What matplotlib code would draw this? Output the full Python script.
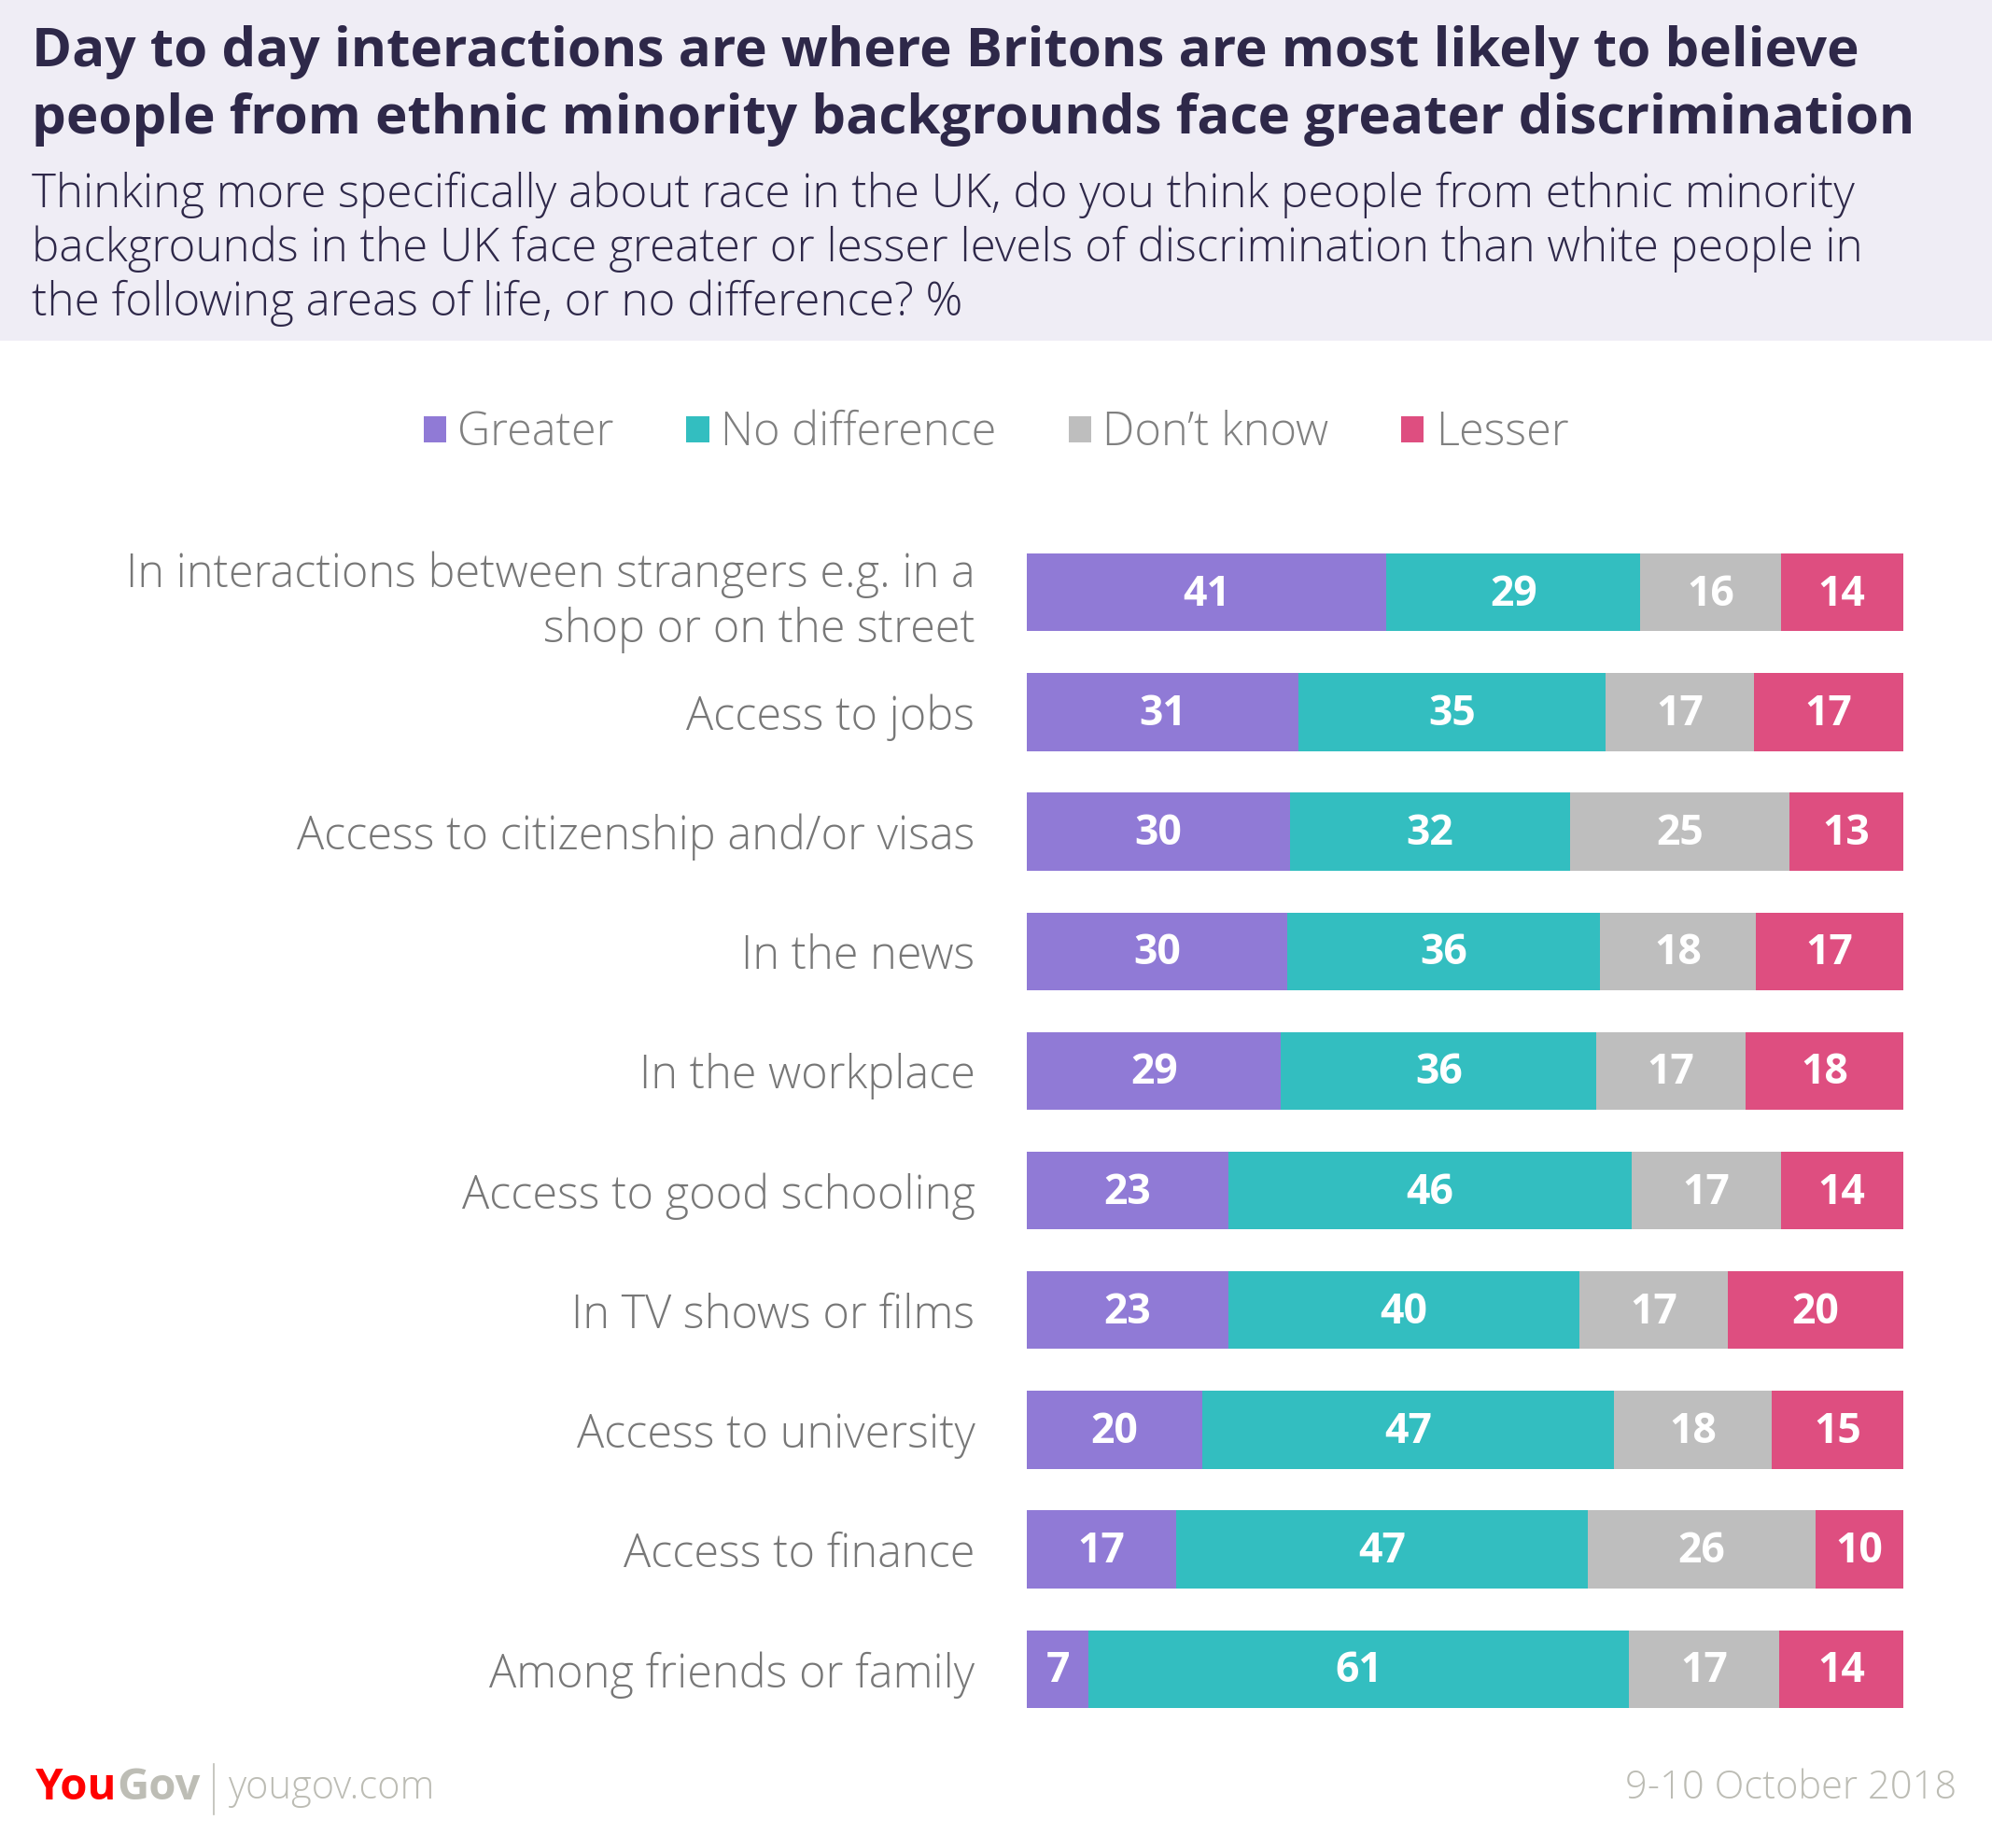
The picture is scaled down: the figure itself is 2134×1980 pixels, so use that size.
import matplotlib
matplotlib.use("Agg")
import matplotlib.pyplot as plt
import numpy as np
from matplotlib.patches import Patch, Rectangle

categories = [
    "In interactions between strangers e.g. in a\nshop or on the street",
    "Access to jobs",
    "Access to citizenship and/or visas",
    "In the news",
    "In the workplace",
    "Access to good schooling",
    "In TV shows or films",
    "Access to university",
    "Access to finance",
    "Among friends or family",
]
greater = [41, 31, 30, 30, 29, 23, 23, 20, 17, 7]
no_difference = [29, 35, 32, 36, 36, 46, 40, 47, 47, 61]
dont_know = [16, 17, 25, 18, 17, 17, 17, 18, 26, 17]
lesser = [14, 17, 13, 17, 18, 14, 20, 15, 10, 14]

series_names = ["Greater", "No difference", "Don\u2019t know", "Lesser"]
colors = ["#907ad6", "#33bec0", "#bebebe", "#de4e80"]

plt.rcParams["font.family"] = ["Open Sans", "DejaVu Sans"]

W, H = 2134, 1980
fig = plt.figure(figsize=(W / 100, H / 100), dpi=100)

# header band
fig.patches.append(Rectangle((0, 1 - 365 / H), 1, 365 / H, transform=fig.transFigure,
                             facecolor="#efedf5", edgecolor="none", zorder=0))
fig.text(34 / W, 1 - 56 / H, "Day to day interactions are where Britons are most likely to believe",
         fontsize=42, fontweight="bold", color="#2e2849", va="center", ha="left")
fig.text(34 / W, 1 - 128 / H, "people from ethnic minority backgrounds face greater discrimination",
         fontsize=42, fontweight="bold", color="#2e2849", va="center", ha="left")
sub = ["Thinking more specifically about race in the UK, do you think people from ethnic minority",
       "backgrounds in the UK face greater or lesser levels of discrimination than white people in",
       "the following areas of life, or no difference? %"]
for i, s in enumerate(sub):
    fig.text(34 / W, 1 - (209 + 58 * i) / H, s, fontsize=35.5, fontweight="light",
             color="#2e2849", va="center", ha="left")

ax = fig.add_axes([1100 / W, 1 - 1830 / H, (2039 - 1100) / W, (1830 - 593) / H])
data = np.array([greater, no_difference, dont_know, lesser], dtype=float)
shares = data / data.sum(axis=0) * 100
y = np.arange(len(categories))
left = np.zeros(len(categories))
for k in range(4):
    ax.barh(y, shares[k], left=left, height=0.65, color=colors[k], edgecolor="none")
    for i in range(len(categories)):
        ax.text(left[i] + shares[k][i] / 2, y[i] + 0.02, str(int(data[k][i])),
                ha="center", va="center", color="white", fontsize=32, fontweight="bold")
    left += shares[k]

ax.set_xlim(0, 100)
ax.set_ylim(len(categories) - 1 + 0.325, -0.325)
ax.set_yticks(y)
ax.set_yticklabels(categories, fontsize=35, fontweight="light", color="#777777",
                   linespacing=1.25)
ax.tick_params(axis="y", length=0, pad=40)
ax.set_xticks([])
for sp in ax.spines.values():
    sp.set_visible(False)

handles = [Patch(facecolor=c, edgecolor="none") for c in colors]
fig.legend(handles, series_names, loc="center", bbox_to_anchor=(0.5, 1 - 464 / H), ncol=4,
           frameon=False, handlelength=0.5, handleheight=0.5,
           handletextpad=0.25, columnspacing=1.6, labelcolor="#808080",
           prop={"family": ["Open Sans", "DejaVu Sans"], "weight": "light", "size": 35})

# footer
t_you = fig.text(38 / W, 1 - 1916 / H, "You", fontsize=34, fontweight="bold", color="#ff0000",
                 va="center", ha="left")
fig.canvas.draw()
t_gov = fig.text(0, 0, "Gov", fontsize=34, fontweight="bold", color="#bdbdb5",
                 va="center", ha="left",
                 transform=t_you.get_transform())
bb = t_you.get_window_extent()
inv = fig.transFigure.inverted()
x_end = inv.transform((bb.x1, bb.y0))[0]
t_gov.set_position((x_end, 1 - 1916 / H))
fig.add_artist(plt.Line2D([229 / W, 229 / W], [1 - 1890 / H, 1 - 1944 / H],
                          color="#bdbdb5", linewidth=1.2))
fig.text(245 / W, 1 - 1916 / H, "yougov.com", fontsize=30, fontweight="light",
         color="#bcbcb4", va="center", ha="left")
fig.text(2096 / W, 1 - 1916 / H, "9-10 October 2018", fontsize=30, fontweight="light",
         color="#bcbcb4", va="center", ha="right")

fig.savefig("out.png", dpi=100, facecolor="white")
